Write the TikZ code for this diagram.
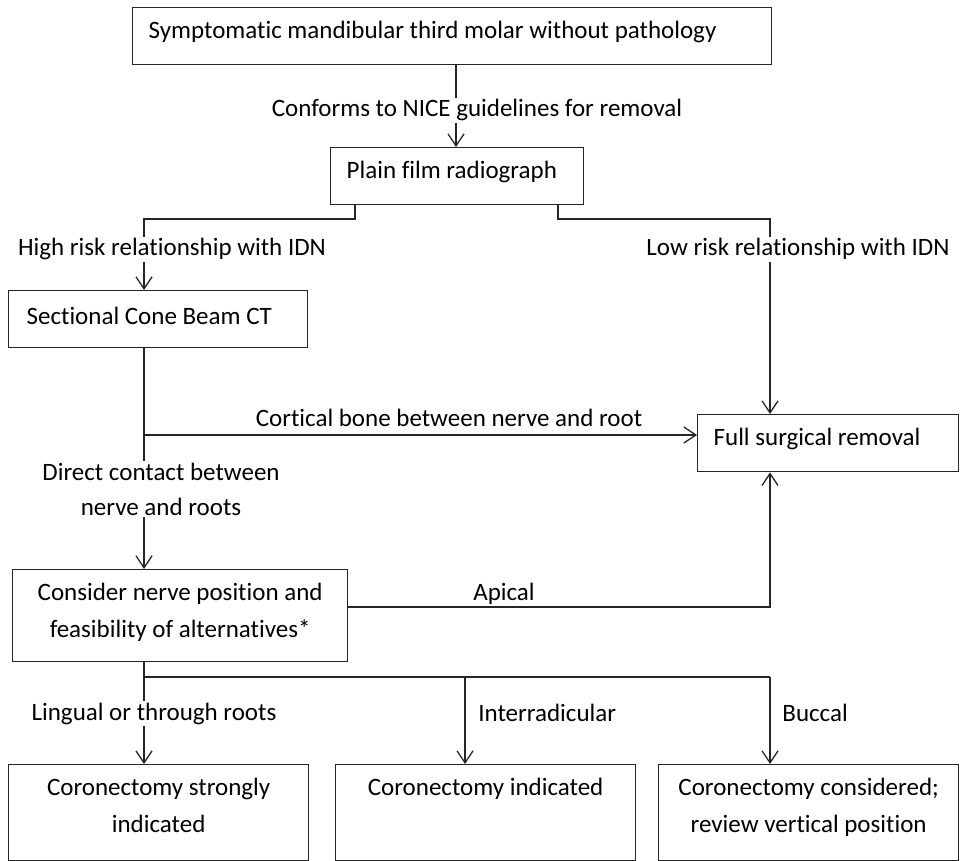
\documentclass[tikz,border=0pt]{standalone}
\usepackage{fontspec}
\setmainfont{Carlito}[Ligatures=NoCommon]
\usetikzlibrary{arrows.meta}

\begin{document}
\begin{tikzpicture}[x=0.5pt, y=-0.5pt,
    font=\fontsize{12.5}{18.5}\selectfont,
    box/.style={rectangle, draw=black!85, line width=0.65pt, anchor=north west, inner xsep=8pt, inner ysep=6pt, text height=9.5pt, text depth=7pt, align=flush left},
    tallbox/.style={box, align=flush center, text depth=24.5pt},
    endbox/.style={box, align=flush center, text depth=26.5pt, text width=134pt},
    lbl/.style={fill=white, inner sep=1pt, anchor=base},
    arrow/.style={-{Straight Barb[length=6pt, width=8pt]}, draw=black!85, line width=0.65pt}
]
\useasboundingbox (0,0) rectangle (964,861);

% Boxes
\node[box, text width=303.5pt] at (132,7) (symp) {Symptomatic mandibular third molar without pathology};
\node[box, text width=110.5pt] at (330,147) (plain) {Plain film radiograph};
\node[box, inner xsep=9pt, text width=131.5pt, text height=11pt, text depth=5.5pt] at (8,290) (cbct) {Sectional Cone Beam CT};
\node[box, text width=114.5pt] at (697,414) (full) {Full surgical removal};
\node[tallbox, text width=151.5pt] at (12,569) (consider) {Consider nerve position and\\feasibility of alternatives*};
\node[endbox] at (8,764) (strong) {Coronectomy strongly\\indicated};
\node[endbox] at (335,764) (indic) {Coronectomy indicated};
\node[endbox] at (658,764) (consid) {Coronectomy considered;\\review vertical position};

% Arrows
\draw[arrow] (symp.south -| 456,0) -- (plain.north -| 456,0);
\draw[arrow] (plain.south -| 355,0) -- (355,219) -| (cbct.north -| 144,0);
\draw[arrow] (plain.south -| 558,0) -- (558,219) -| (full.north -| 770,0);
\draw[arrow] (cbct.south -| 144,0) |- (full.west |- 0,435);
\draw[arrow] (cbct.south -| 144,0) -- (consider.north -| 144,0);
\draw[arrow] (consider.east |- 0,607) -| (full.south -| 770,0);
\draw[draw=black!85, line width=0.65pt] (consider.south -| 144,0) |- (770,677);
\draw[arrow] (144,677) -- (strong.north -| 144,0);
\draw[arrow] (465,677) -- (indic.north -| 465,0);
\draw[arrow] (770,677) -- (consid.north -| 770,0);

% Labels
\node[lbl] at (477,117) (nice) {Conforms to NICE guidelines for removal};
\node[lbl] at (172,256) (high) {High risk relationship with IDN};
\node[lbl] at (798,256) (low) {Low risk relationship with IDN};
\node[lbl] at (449,426) (cortical) {Cortical bone between nerve and root};
\node[lbl, align=center, font=\fontsize{12.5}{17.5}\selectfont] at (161,515) (direct) {Direct contact between\\nerve and roots};
\node[lbl] at (504,600) (apical) {Apical};
\node[lbl] at (154,720) (lingual) {Lingual or through roots};
\node[lbl, anchor=base west] at (476,721) (interr) {Interradicular};
\node[lbl, anchor=base west] at (780,721) (buccal) {Buccal};

\end{tikzpicture}
\end{document}
